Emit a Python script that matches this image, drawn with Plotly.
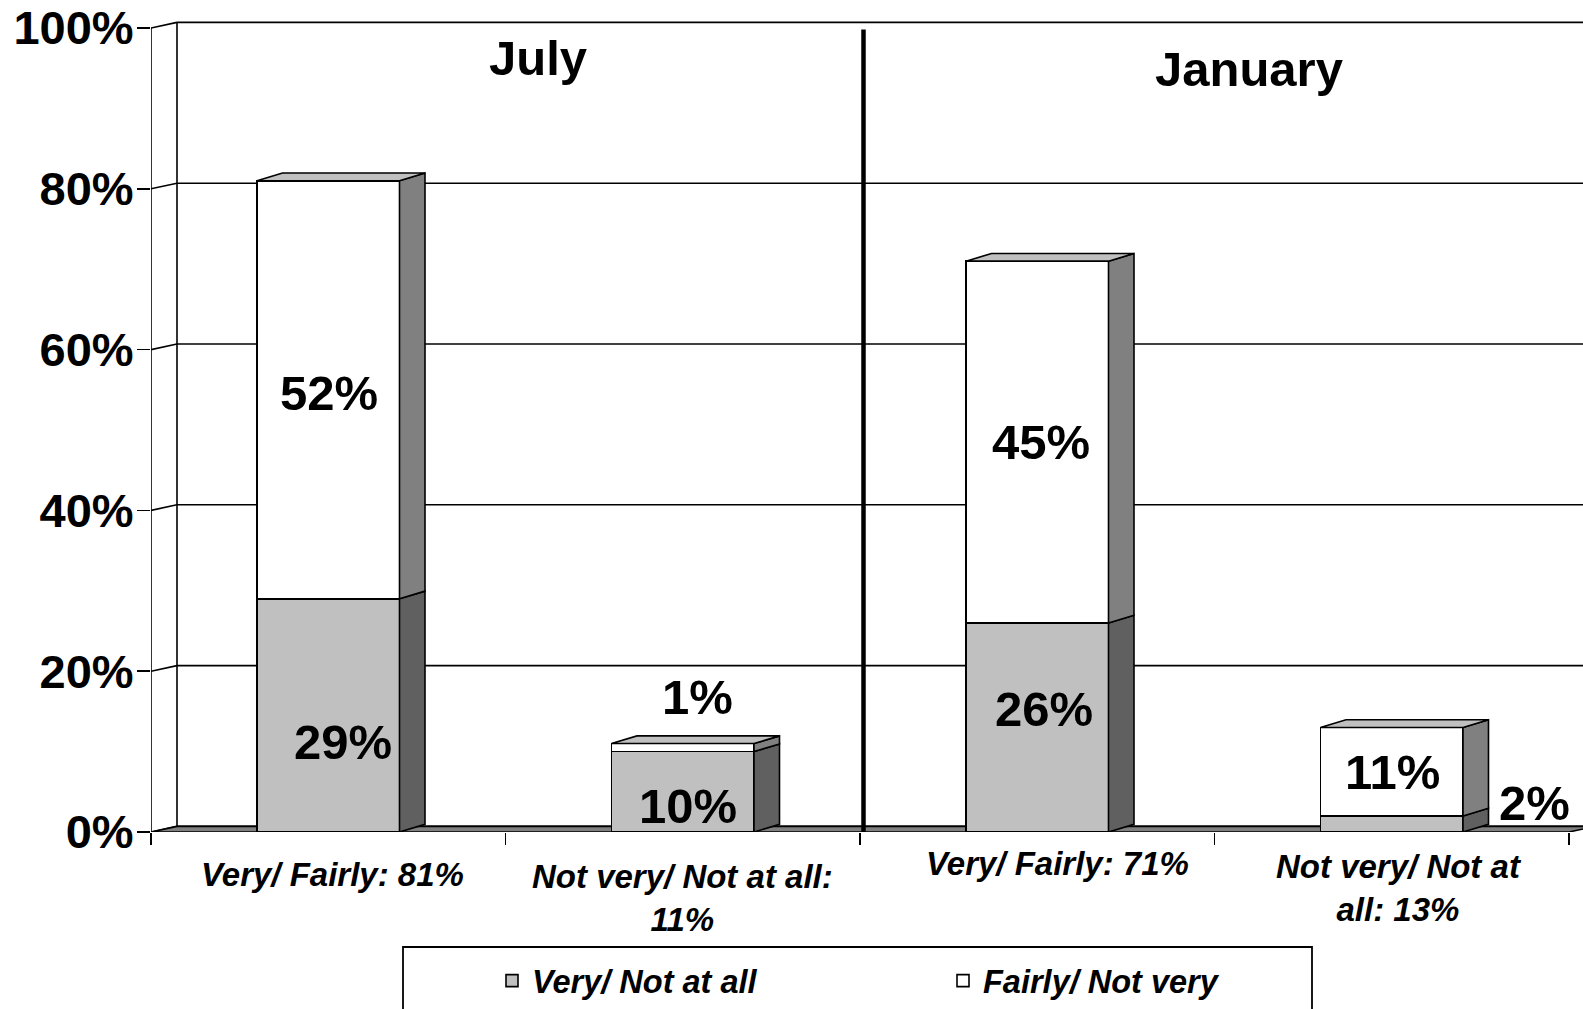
import plotly.graph_objects as go

# ---------------- data ----------------
categories = ["Very/ Fairly: 81%", "Not very/ Not at all: 11%",
              "Very/ Fairly: 71%", "Not very/ Not at all: 13%"]
tick_labels = ["Very/ Fairly: 81%", "Not very/ Not at all:<br>11%",
               "Very/ Fairly: 71%", "Not very/ Not at<br>all: 13%"]
very_not_at_all = [29, 10, 26, 2]
fairly_not_very = [52, 1, 45, 11]
series_names = ["Very/ Not at all", "Fairly/ Not very"]
periods = ["July", "January"]
y_ticks = [0, 20, 40, 60, 80, 100]
y_tick_labels = ["0%", "20%", "40%", "60%", "80%", "100%"]

# ---------------- layout / style constants ----------------
W, H = 1583, 1009
ML, MR, MT, MB = 151, 0, 12, 177
CAT_PX = 354.5          # pixels per category
Y_PX = 8.04             # pixels per percentage point
plot_w = W - ML - MR
plot_h = H - MT - MB
x_range = [-0.5, -0.5 + plot_w / CAT_PX]
y_range = [0, plot_h / Y_PX]


def dxu(px):
    return px / CAT_PX


def dyu(px):
    return px / Y_PX


def paper_x(px):
    return (px - ML) / plot_w


def paper_y(py):
    return (H - MB - py) / plot_h


BAR_W = dxu(142.5)
WALL_DX, WALL_DY = dxu(26), dyu(5.6)
BAR_DX, BAR_DY = dxu(25.5), dyu(7.7)

FONT = "Liberation Sans, Arial, sans-serif"
GRAY = "#C0C0C0"
GRAY_SIDE = "#606060"
WHITE_SIDE = "#808080"
TOP_FACE = "#C0C0C0"
FLOOR = "#808080"
LW = 1.6

# label offsets (px) relative to segment centres: (xshift, yshift)
gray_label_shift = [(15, -27), (5, -14), (7, 18), (143, 21)]
white_label_shift = [(1, -3), (15, 51), (4, 0), (1, 0)]
cat_label_shift_x = [4, 0, 20, 7]
cat_label_y_px = [874, 897.5, 863, 887.5]
period_pos = [(0.5, 32, 58.5), (2.5, 34.5, 68.6)]   # (centre category, xshift px, y px)

# ---------------- figure ----------------
fig = go.Figure()
fig.add_bar(x=categories, y=very_not_at_all, name=series_names[0], width=BAR_W,
            marker=dict(color=GRAY, line=dict(color="black", width=LW)), hoverinfo="skip")
fig.add_bar(x=categories, y=fairly_not_very, name=series_names[1], width=BAR_W,
            marker=dict(color="white", line=dict(color="black", width=LW)), hoverinfo="skip")

shapes = []


def poly(pts, fill, layer="above", width=LW):
    path = "M " + " L ".join(f"{x},{y}" for x, y in pts) + " Z"
    return dict(type="path", xref="x", yref="y", path=path, fillcolor=fill,
                line=dict(color="black", width=width), layer=layer)


def line(x0, y0, x1, y1, width=LW, layer="below"):
    return dict(type="line", xref="x", yref="y", x0=x0, y0=y0, x1=x1, y1=y1,
                line=dict(color="black", width=width), layer=layer)


x_left, x_right = -0.5, len(categories) - 0.5
# back wall grid, side wall diagonals
for v in y_ticks:
    shapes.append(line(x_left + WALL_DX, v + WALL_DY, x_right + WALL_DX, v + WALL_DY))
    shapes.append(line(x_left, v, x_left + WALL_DX, v + WALL_DY))
shapes.append(line(x_left + WALL_DX, WALL_DY, x_left + WALL_DX, y_ticks[-1] + WALL_DY))
shapes.append(line(x_left, 0, x_left, y_ticks[-1]))
# floor
shapes.append(poly([(x_left, 0), (x_right, 0), (x_right + WALL_DX, WALL_DY),
                    (x_left + WALL_DX, WALL_DY)], FLOOR, layer="below"))

# 3-D bar sides and tops
for i in range(len(categories)):
    xl, xr = i - BAR_W / 2, i + BAR_W / 2
    segs = [(0, very_not_at_all[i], GRAY_SIDE),
            (very_not_at_all[i], very_not_at_all[i] + fairly_not_very[i], WHITE_SIDE)]
    for y0, y1, col in segs:
        shapes.append(poly([(xr, y0), (xr + BAR_DX, y0 + BAR_DY),
                            (xr + BAR_DX, y1 + BAR_DY), (xr, y1)], col))
    top = very_not_at_all[i] + fairly_not_very[i]
    shapes.append(poly([(xl, top), (xl + BAR_DX, top + BAR_DY),
                        (xr + BAR_DX, top + BAR_DY), (xr, top)], TOP_FACE))

# divider between periods
shapes.append(line(1.5 + dxu(3.5), 0, 1.5 + dxu(3.5), 99.8, width=4.5, layer="above"))

# legend frame
shapes.append(dict(type="rect", xref="paper", yref="paper",
                   x0=paper_x(403), x1=paper_x(1312), y0=paper_y(1030), y1=paper_y(947),
                   line=dict(color="black", width=1.8), fillcolor="white", layer="below"))

annotations = []
big = dict(family=FONT, size=49, color="black", weight="bold")
lab_font = dict(family=FONT, size=33, color="black", weight="bold", style="italic")
for i in range(len(categories)):
    a, b = very_not_at_all[i], fairly_not_very[i]
    gx, gy = gray_label_shift[i]
    wx, wy = white_label_shift[i]
    annotations.append(dict(x=categories[i], y=a / 2, text=f"{a}%", showarrow=False,
                            xshift=gx, yshift=gy, font=big))
    annotations.append(dict(x=categories[i], y=a + b / 2, text=f"{b}%", showarrow=False,
                            xshift=wx, yshift=wy, font=big))
    annotations.append(dict(x=categories[i], y=0, text=tick_labels[i], showarrow=False,
                            xshift=cat_label_shift_x[i],
                            yshift=-(cat_label_y_px[i] - (H - MB)),
                            yanchor="middle", font=lab_font))
for name, (cx, xs, ypx) in zip(periods, period_pos):
    annotations.append(dict(x=cx, y=y_ticks[-1], text=name, showarrow=False,
                            xshift=xs, yshift=-(ypx - (H - MB - y_ticks[-1] * Y_PX)),
                            yanchor="middle", font=big))

fig.update_layout(
    width=W, height=H,
    margin=dict(l=ML, r=MR, t=MT, b=MB, autoexpand=False),
    barmode="stack",
    plot_bgcolor="white", paper_bgcolor="white",
    font=dict(family=FONT, color="black"),
    shapes=shapes,
    annotations=annotations,
    showlegend=True,
    legend=dict(orientation="h", x=paper_x(492), xanchor="left",
                y=paper_y(981), yanchor="middle",
                bgcolor="rgba(0,0,0,0)", borderwidth=0,
                itemwidth=30, entrywidth=406, traceorder="normal",
                font=dict(family=FONT, size=32.5, color="black",
                          weight="bold", style="italic")),
    xaxis=dict(type="category", categoryorder="array", categoryarray=categories,
               range=x_range, autorange=False, automargin=False,
               showgrid=False, zeroline=False, showline=False,
               showticklabels=False, ticks="outside", tickson="boundaries",
               ticklen=12, tickwidth=1.6, tickcolor="black", fixedrange=True),
    yaxis=dict(range=y_range, autorange=False, automargin=False,
               tickvals=y_ticks, ticktext=y_tick_labels,
               showgrid=False, zeroline=False, showline=False,
               ticks="outside", ticklen=13, tickwidth=1.6, tickcolor="black",
               ticklabelstandoff=-6,
               tickfont=dict(family=FONT, size=47, color="black", weight="bold"),
               fixedrange=True),
)

fig.write_html("out.html", config={"displayModeBar": False, "staticPlot": True},
               post_script="document.body.style.margin='0';document.body.style.overflow='hidden';")
